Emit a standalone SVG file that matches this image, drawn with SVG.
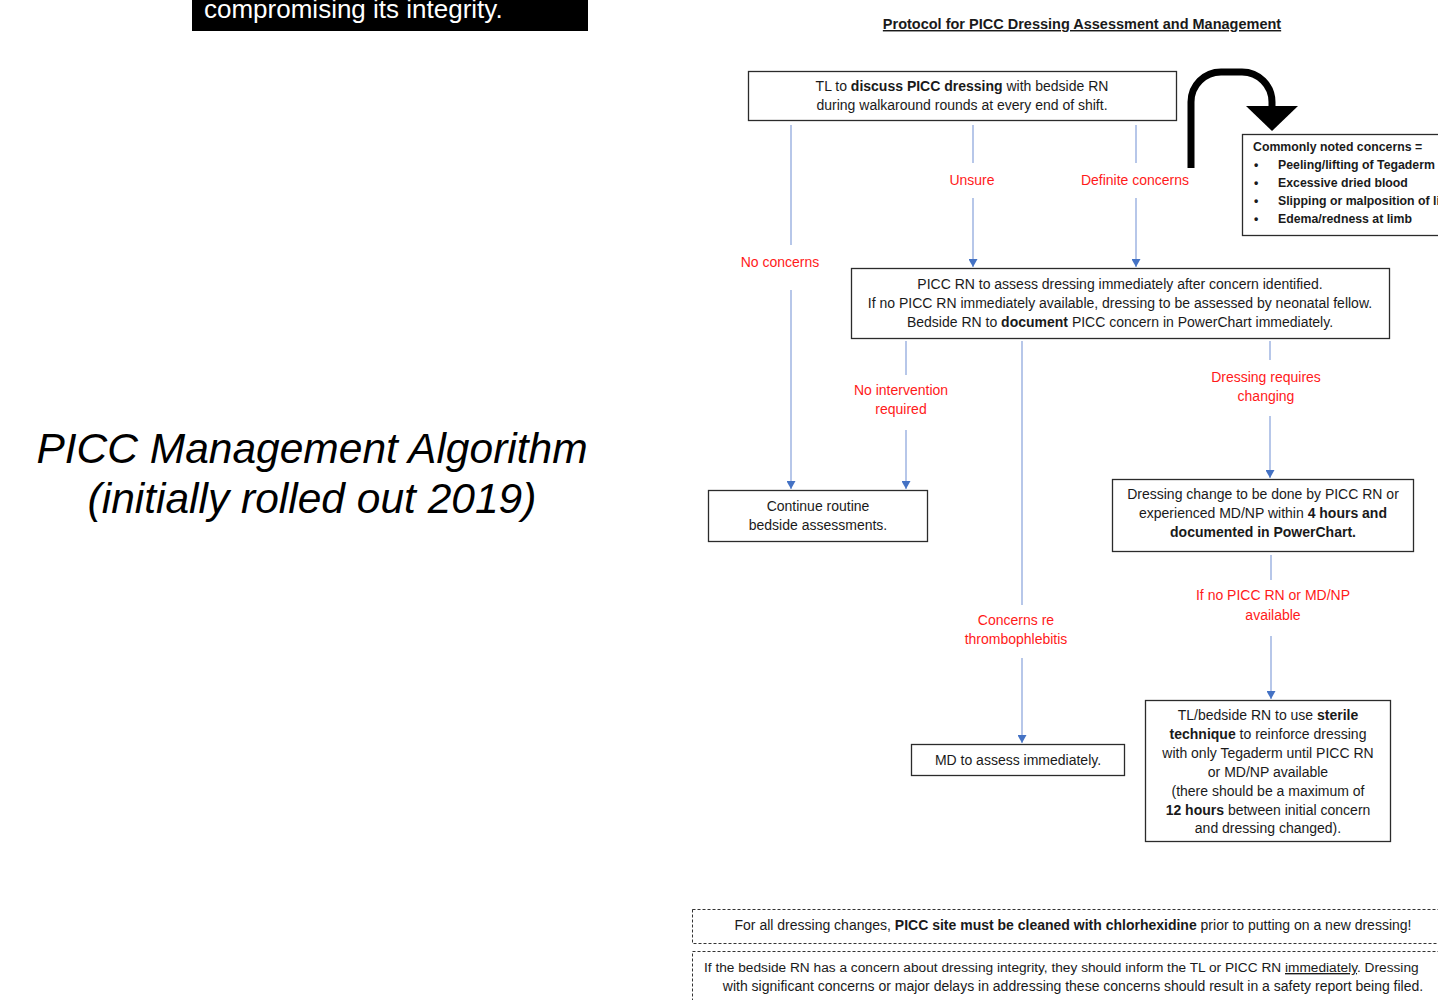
<svg xmlns="http://www.w3.org/2000/svg" width="1438" height="1000" viewBox="0 0 1438 1000">
<style>
.box{fill:#fff;stroke:#2b2b2b;stroke-width:1.3}
.t{font-family:"Liberation Sans",Arial,sans-serif;font-size:14px;fill:#1a1a1a;text-anchor:middle}
.b{font-weight:bold}
.lbl{font-family:"Liberation Sans",Arial,sans-serif;font-size:14px;fill:#ff1a1a;text-anchor:middle}
.ln{stroke:#9fb5e2;stroke-width:1.5;fill:none}
.dash{fill:#fff;stroke:#333;stroke-width:1;stroke-dasharray:3 2}
.cc{font-family:"Liberation Sans",Arial,sans-serif;font-size:12.3px;fill:#1a1a1a;font-weight:bold}
</style>
<defs>
<marker id="ah" viewBox="0 0 10 10" refX="10" refY="5" markerWidth="8" markerHeight="9" markerUnits="userSpaceOnUse" orient="auto" preserveAspectRatio="none">
<path d="M0,0 L10,5 L0,10 Z" fill="#4472c4"/>
</marker>
</defs>
<rect width="1438" height="1000" fill="#fff"/>

<g id="banner">
<rect x="192" y="0" width="396" height="31" fill="#000"/>
<text x="204" y="18" font-family="Liberation Sans,Arial,sans-serif" font-size="26" fill="#fff">compromising its integrity.</text>
</g>

<g id="left-title">
<text x="312" y="463" font-family="Liberation Sans,Arial,sans-serif" font-size="42.5" font-style="italic" text-anchor="middle" fill="#000">PICC Management Algorithm</text>
<text x="312" y="513" font-family="Liberation Sans,Arial,sans-serif" font-size="42.5" font-style="italic" text-anchor="middle" fill="#000">(initially rolled out 2019)</text>
</g>

<g id="title">
<text x="1082" y="29" class="t b" style="font-size:14.5px;text-decoration:underline">Protocol for PICC Dressing Assessment and Management</text>
</g>

<g id="connectors">
<path class="ln" d="M791,125 V245"/>
<path class="ln" d="M791,290 V489" marker-end="url(#ah)"/>
<path class="ln" d="M973,125 V163"/>
<path class="ln" d="M973,198 V267" marker-end="url(#ah)"/>
<path class="ln" d="M1136,125 V163"/>
<path class="ln" d="M1136,198 V267" marker-end="url(#ah)"/>
<path class="ln" d="M906,341 V375"/>
<path class="ln" d="M906,430 V489" marker-end="url(#ah)"/>
<path class="ln" d="M1022,341 V605"/>
<path class="ln" d="M1022,658 V743" marker-end="url(#ah)"/>
<path class="ln" d="M1270,341 V360"/>
<path class="ln" d="M1270,416 V478" marker-end="url(#ah)"/>
<path class="ln" d="M1271,555 V580"/>
<path class="ln" d="M1271,636 V699" marker-end="url(#ah)"/>
<text class="lbl" x="780" y="267">No concerns</text>
<text class="lbl" x="972" y="185">Unsure</text>
<text class="lbl" x="1135" y="185">Definite concerns</text>
<text class="lbl" x="901" y="395">No intervention</text>
<text class="lbl" x="901" y="414">required</text>
<text class="lbl" x="1266" y="382">Dressing requires</text>
<text class="lbl" x="1266" y="401">changing</text>
<text class="lbl" x="1016" y="625">Concerns re</text>
<text class="lbl" x="1016" y="644">thrombophlebitis</text>
<text class="lbl" x="1273" y="600">If no PICC RN or MD/NP</text>
<text class="lbl" x="1273" y="620">available</text>
<g id="curved-arrow">
<path d="M1191,168 V102 A30,30 0 0 1 1221,72 H1242 A30,30 0 0 1 1272,102 V108" fill="none" stroke="#000" stroke-width="7"/>
<path d="M1246,106 L1298,106 L1272,131 Z" fill="#000"/>
</g>
</g>

<g id="node-discuss">
<rect class="box" x="748.5" y="71.5" width="428" height="49"/>
<text class="t" x="962" y="91">TL to <tspan class="b">discuss PICC dressing</tspan> with bedside RN</text>
<text class="t" x="962" y="110">during walkaround rounds at every end of shift.</text>
</g>

<g id="node-concerns">
<rect class="box" x="1242.5" y="134.5" width="210" height="101"/>
<text class="cc" x="1253" y="151">Commonly noted concerns =</text>
<text class="cc" x="1254" y="169">•</text><text class="cc" x="1278" y="169">Peeling/lifting of Tegaderm</text>
<text class="cc" x="1254" y="187">•</text><text class="cc" x="1278" y="187">Excessive dried blood</text>
<text class="cc" x="1254" y="205">•</text><text class="cc" x="1278" y="205">Slipping or malposition of line</text>
<text class="cc" x="1254" y="223">•</text><text class="cc" x="1278" y="223">Edema/redness at limb</text>
</g>

<g id="node-assess">
<rect class="box" x="851.5" y="268.5" width="538" height="70"/>
<text class="t" x="1120" y="289">PICC RN to assess dressing immediately after concern identified.</text>
<text class="t" x="1120" y="308">If no PICC RN immediately available, dressing to be assessed by neonatal fellow.</text>
<text class="t" x="1120" y="327">Bedside RN to <tspan class="b">document</tspan> PICC concern in PowerChart immediately.</text>
</g>

<g id="node-continue">
<rect class="box" x="708.5" y="490.5" width="219" height="51"/>
<text class="t" x="818" y="511">Continue routine</text>
<text class="t" x="818" y="530">bedside assessments.</text>
</g>

<g id="node-change">
<rect class="box" x="1112.5" y="479.5" width="301" height="72"/>
<text class="t" x="1263" y="499">Dressing change to be done by PICC RN or</text>
<text class="t" x="1263" y="518">experienced MD/NP within <tspan class="b">4 hours and</tspan></text>
<text class="t b" x="1263" y="537">documented in PowerChart.</text>
</g>

<g id="node-md">
<rect class="box" x="911.5" y="744.5" width="213" height="31"/>
<text class="t" x="1018" y="765">MD to assess immediately.</text>
</g>

<g id="node-reinforce">
<rect class="box" x="1145.5" y="700.5" width="245" height="141"/>
<text class="t" x="1268" y="720">TL/bedside RN to use <tspan class="b">sterile</tspan></text>
<text class="t" x="1268" y="739"><tspan class="b">technique</tspan> to reinforce dressing</text>
<text class="t" x="1268" y="758">with only Tegaderm until PICC RN</text>
<text class="t" x="1268" y="777">or MD/NP available</text>
<text class="t" x="1268" y="796">(there should be a maximum of</text>
<text class="t" x="1268" y="815"><tspan class="b">12 hours</tspan> between initial concern</text>
<text class="t" x="1268" y="833">and dressing changed).</text>
</g>

<g id="note-chlorhexidine">
<rect class="dash" x="692.5" y="909.5" width="760" height="34"/>
<text class="t" x="1073" y="930">For all dressing changes, <tspan class="b">PICC site must be cleaned with chlorhexidine</tspan> prior to putting on a new dressing!</text>
</g>

<g id="note-report">
<rect class="dash" x="692.5" y="951.5" width="760" height="60"/>
<text class="t" x="704" y="972" style="text-anchor:start;font-size:13.7px">If the bedside RN has a concern about dressing integrity, they should inform the TL or PICC RN <tspan style="text-decoration:underline">immediately</tspan>. Dressing</text>
<text class="t" x="1073" y="991">with significant concerns or major delays in addressing these concerns should result in a safety report being filed.</text>
</g>
</svg>
